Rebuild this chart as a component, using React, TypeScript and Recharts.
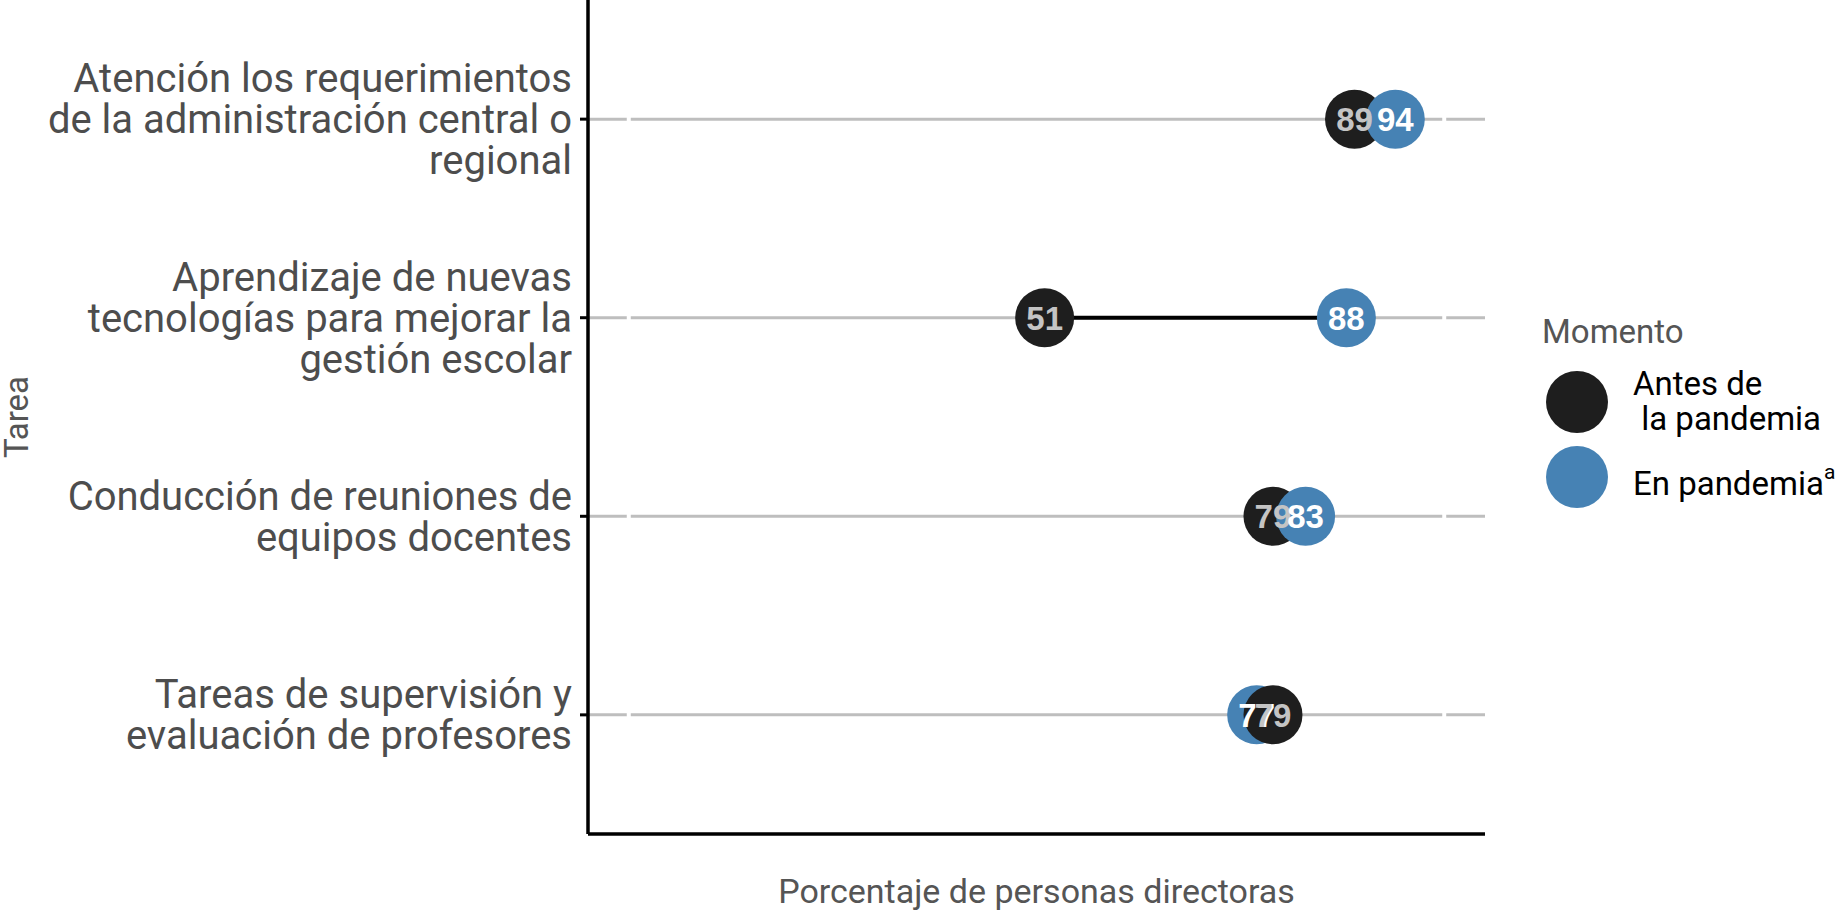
import React from 'react';
import { ScatterChart, Scatter, XAxis, YAxis, ReferenceLine } from 'recharts';

const TAREAS = [
  'Atención los requerimientos\nde la administración central o\nregional',
  'Aprendizaje de nuevas\ntecnologías para mejorar la\ngestión escolar',
  'Conducción de reuniones de\nequipos docentes',
  'Tareas de supervisión y\nevaluación de profesores',
];
const ANTES = [89, 51, 79, 79];
const PANDEMIA = [94, 88, 83, 77];
const X_BREAKS = [0, 100];
const Y_TICKS = [1, 2, 3, 4];

const NEGRO = '#1e1e1e';
const AZUL = '#4682b4';
const FONT = 'Roboto, "Noto Sans", sans-serif';

// one point per (tarea, momento); within a row the larger value is drawn last
const points = TAREAS.flatMap((_, i) =>
  [
    { x: ANTES[i], y: i + 1, momento: 'antes' },
    { x: PANDEMIA[i], y: i + 1, momento: 'pandemia' },
  ].sort((a, b) => a.x - b.x)
);

const TaskTick = ({ x, y, payload }: any) => {
  const lines = TAREAS[payload.value - 1].split('\n');
  const lh = 41;
  const first = -((lines.length - 1) * lh) / 2 + 14;
  return (
    <text x={x} y={y} textAnchor="end" fill="#4d4d4d" fontSize={40} fontFamily={FONT}>
      {lines.map((l, i) => (
        <tspan key={i} x={x} dy={i === 0 ? first : lh}>
          {l}
        </tspan>
      ))}
    </text>
  );
};

const Dot = ({ cx, cy, payload }: any) => (
  <circle cx={cx} cy={cy} r={29.5} fill={payload.momento === 'antes' ? NEGRO : AZUL} />
);

const DotLabel = ({ cx, cy, payload }: any) => (
  <text
    x={cx}
    y={cy}
    dy="0.36em"
    textAnchor="middle"
    fontFamily='"Liberation Sans", Arial, sans-serif'
    fontWeight="bold"
    fontSize={33}
    fill={payload.momento === 'antes' ? '#c4c4c4' : '#ffffff'}
  >
    {payload.x}
  </text>
);

const YTitle = ({ viewBox }: any) => {
  const cy = viewBox.y + viewBox.height / 2;
  return (
    <text
      x={28}
      y={cy}
      transform={`rotate(-90 28 ${cy})`}
      textAnchor="middle"
      fill="#555"
      fontSize={33}
      fontFamily={FONT}
    >
      Tarea
    </text>
  );
};

const MomentoLegend = () => (
  <svg
    width={300}
    height={200}
    viewBox="1541 310 300 200"
    style={{ position: 'absolute', left: 1541, top: 310 }}
    fontFamily={FONT}
  >
    <text x={1542} y={343} fontSize={33} fill="#555">
      Momento
    </text>
    <circle cx={1577} cy={402} r={31} fill={NEGRO} />
    <text x={1633} y={395} fontSize={33} fill="#000">
      Antes de
    </text>
    <text x={1633} y={430} fontSize={33} fill="#000" style={{ whiteSpace: 'pre' }}>
      {' la pandemia'}
    </text>
    <circle cx={1577} cy={477} r={31} fill={AZUL} />
    <text x={1633} y={495} fontSize={33} fill="#000">
      En pandemia
      <tspan fontSize={21} dy={-16}>
        a
      </tspan>
    </text>
  </svg>
);

export default function App() {
  return (
    <div style={{ position: 'absolute', left: 0, top: 0, width: 1841, height: 912, background: '#fff' }}>
      <ScatterChart width={1841} height={912} margin={{ top: 0, right: 356, bottom: 0, left: 0 }}>
        <XAxis
          type="number"
          dataKey="x"
          domain={[-5, 105]}
          ticks={X_BREAKS}
          tick={false}
          tickLine={false}
          axisLine={{ stroke: '#000', strokeWidth: 3.5 }}
          height={78}
          label={{
            value: 'Porcentaje de personas directoras',
            position: 'insideBottom',
            offset: 9,
            fill: '#555',
            fontSize: 34,
            fontFamily: FONT,
          }}
        />
        <YAxis
          type="number"
          dataKey="y"
          domain={[0.4, 4.6]}
          ticks={Y_TICKS}
          reversed
          width={588}
          tick={<TaskTick />}
          tickSize={8}
          tickMargin={8}
          tickLine={{ stroke: '#000', strokeWidth: 3 }}
          axisLine={{ stroke: '#000', strokeWidth: 3.5 }}
          label={<YTitle />}
        />
        {/* horizontal grid at each task, broken by white lines at the x breaks */}
        {Y_TICKS.map((t) => (
          <ReferenceLine key={'h' + t} y={t} stroke="#bebebe" strokeWidth={3} />
        ))}
        {X_BREAKS.map((b) => (
          <ReferenceLine key={'v' + b} x={b} stroke="#fff" strokeWidth={4} />
        ))}
        {TAREAS.map((_, i) => (
          <Scatter
            key={'seg' + i}
            data={[
              { x: ANTES[i], y: i + 1 },
              { x: PANDEMIA[i], y: i + 1 },
            ]}
            line={{ stroke: '#000', strokeWidth: 4 }}
            shape={() => <g />}
            legendType="none"
            isAnimationActive={false}
          />
        ))}
        <Scatter data={points} shape={<Dot />} legendType="none" isAnimationActive={false} />
        <Scatter data={points} shape={<DotLabel />} legendType="none" isAnimationActive={false} />
      </ScatterChart>
      <MomentoLegend />
    </div>
  );
}
